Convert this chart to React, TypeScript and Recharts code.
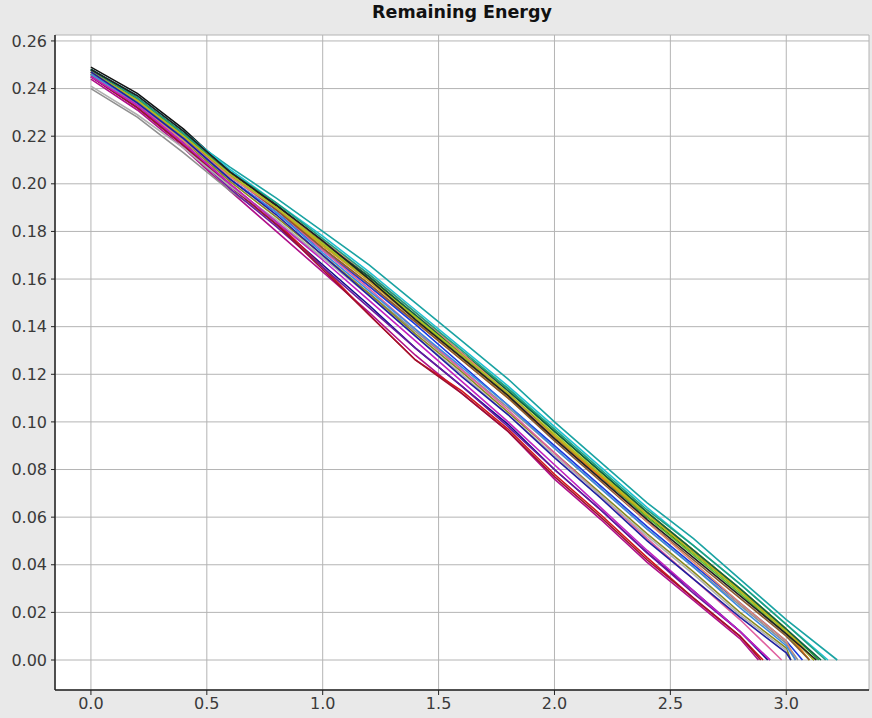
import { LineChart, Line, XAxis, YAxis, CartesianGrid } from "recharts";

// sample times shared by every run (the last point of each run is its end time, where energy hits 0)
const X_GRID = [0, 0.2, 0.4, 0.6, 0.8, 1.0, 1.2, 1.4, 1.6, 1.8, 2.0, 2.2, 2.4, 2.6, 2.8, 3.0];

const X_TICKS = [0, 0.5, 1.0, 1.5, 2.0, 2.5, 3.0];
const Y_TICKS = [0, 0.02, 0.04, 0.06, 0.08, 0.1, 0.12, 0.14, 0.16, 0.18, 0.2, 0.22, 0.24, 0.26];

const RUN_NAMES = [
  "black", "teal", "navy", "magenta", "red", "green", "lime", "orange", "blue", "gray", "purple",
  "cyan", "olive", "pink", "gold", "darkgreen", "brown", "salmon", "sky", "darkred", "teal2",
  "lightgray", "yellowgreen", "black2", "navy2", "magenta2",
];

const RUN_COLORS = [
  "#111111", "#1aa3a3", "#10108a", "#b0108a", "#d01818", "#1a9a3a", "#60c030", "#f08010", "#1838e0",
  "#909090", "#6a1aa0", "#20c0d0", "#8a8a20", "#e060a0", "#d0a020", "#106040", "#8a5a30", "#e08870",
  "#3c8ce0", "#a01030", "#20a080", "#b0b0b0", "#b0c020", "#202020", "#2020a0", "#c020c0",
];

// remaining energy of each run, read at X_GRID
const RUN_VALUES = [
  [0.249, 0.238, 0.223, 0.205, 0.191, 0.175, 0.161, 0.144, 0.128, 0.112, 0.094, 0.077, 0.060, 0.045, 0.029, 0.012],
  [0.248, 0.236, 0.221, 0.207, 0.194, 0.180, 0.166, 0.150, 0.134, 0.118, 0.100, 0.083, 0.066, 0.051, 0.034, 0.017],
  [0.246, 0.233, 0.217, 0.199, 0.183, 0.166, 0.149, 0.131, 0.115, 0.099, 0.080, 0.063, 0.045, 0.029, 0.012],
  [0.244, 0.231, 0.215, 0.197, 0.180, 0.163, 0.146, 0.128, 0.112, 0.096, 0.076, 0.059, 0.041, 0.025, 0.009],
  [0.245, 0.232, 0.217, 0.200, 0.184, 0.165, 0.145, 0.126, 0.113, 0.097, 0.078, 0.061, 0.043, 0.026, 0.010],
  [0.248, 0.236, 0.221, 0.204, 0.190, 0.175, 0.160, 0.144, 0.129, 0.114, 0.096, 0.079, 0.062, 0.046, 0.030, 0.013],
  [0.247, 0.235, 0.220, 0.203, 0.190, 0.174, 0.160, 0.144, 0.127, 0.111, 0.094, 0.077, 0.060, 0.044, 0.028, 0.011],
  [0.247, 0.235, 0.219, 0.204, 0.190, 0.173, 0.157, 0.142, 0.126, 0.110, 0.093, 0.077, 0.061, 0.046, 0.029, 0.012],
  [0.246, 0.234, 0.219, 0.202, 0.188, 0.172, 0.157, 0.141, 0.124, 0.107, 0.090, 0.073, 0.056, 0.040, 0.024, 0.008],
  [0.240, 0.228, 0.213, 0.197, 0.184, 0.169, 0.154, 0.138, 0.122, 0.106, 0.089, 0.072, 0.055, 0.039, 0.023, 0.007],
  [0.245, 0.232, 0.216, 0.198, 0.182, 0.165, 0.148, 0.131, 0.115, 0.098, 0.080, 0.063, 0.045, 0.028, 0.012],
  [0.248, 0.237, 0.222, 0.206, 0.192, 0.178, 0.163, 0.147, 0.131, 0.115, 0.098, 0.081, 0.064, 0.048, 0.032, 0.015],
  [0.246, 0.234, 0.218, 0.201, 0.186, 0.170, 0.154, 0.137, 0.121, 0.104, 0.087, 0.070, 0.053, 0.037, 0.020, 0.005],
  [0.247, 0.234, 0.219, 0.203, 0.189, 0.172, 0.156, 0.139, 0.122, 0.105, 0.087, 0.069, 0.051, 0.034, 0.017],
  [0.247, 0.235, 0.220, 0.204, 0.190, 0.174, 0.159, 0.143, 0.127, 0.111, 0.094, 0.078, 0.062, 0.046, 0.030, 0.013],
  [0.248, 0.236, 0.221, 0.205, 0.191, 0.176, 0.161, 0.145, 0.129, 0.113, 0.096, 0.079, 0.062, 0.046, 0.030, 0.013],
  [0.247, 0.235, 0.220, 0.204, 0.189, 0.173, 0.158, 0.142, 0.126, 0.110, 0.092, 0.075, 0.058, 0.042, 0.026, 0.010],
  [0.246, 0.233, 0.218, 0.203, 0.190, 0.176, 0.162, 0.146, 0.129, 0.112, 0.093, 0.076, 0.058, 0.041, 0.024, 0.008],
  [0.246, 0.234, 0.219, 0.202, 0.188, 0.171, 0.155, 0.139, 0.123, 0.107, 0.089, 0.072, 0.055, 0.039, 0.022, 0.006],
  [0.245, 0.232, 0.216, 0.199, 0.183, 0.164, 0.145, 0.126, 0.112, 0.096, 0.077, 0.060, 0.042, 0.026, 0.010],
  [0.248, 0.236, 0.221, 0.205, 0.192, 0.177, 0.162, 0.146, 0.130, 0.114, 0.097, 0.080, 0.063, 0.048, 0.032, 0.015],
  [0.241, 0.229, 0.215, 0.199, 0.185, 0.169, 0.153, 0.136, 0.120, 0.103, 0.086, 0.069, 0.052, 0.036, 0.019, 0.004],
  [0.247, 0.235, 0.220, 0.204, 0.190, 0.175, 0.160, 0.144, 0.128, 0.112, 0.095, 0.078, 0.061, 0.045, 0.029, 0.012],
  [0.248, 0.237, 0.222, 0.205, 0.191, 0.176, 0.160, 0.143, 0.127, 0.111, 0.093, 0.076, 0.059, 0.043, 0.027, 0.011],
  [0.247, 0.234, 0.219, 0.202, 0.187, 0.170, 0.153, 0.136, 0.119, 0.103, 0.085, 0.068, 0.050, 0.034, 0.018, 0.003],
  [0.245, 0.233, 0.217, 0.200, 0.184, 0.168, 0.151, 0.134, 0.117, 0.100, 0.082, 0.064, 0.046, 0.029, 0.012],
];

// time at which each run runs out of energy
const RUN_ENDS = [
  3.12, 3.22, 2.92, 2.88, 2.90, 3.14, 3.10, 3.10, 3.07, 3.05, 2.93, 3.18, 3.02, 2.98, 3.12, 3.15,
  3.10, 3.04, 3.04, 2.89, 3.17, 3.00, 3.12, 3.13, 3.02, 2.93,
];

const runs = RUN_VALUES.map((vals, i) => ({
  name: RUN_NAMES[i],
  color: RUN_COLORS[i],
  points: [...vals.map((v, j) => ({ x: X_GRID[j], y: v })), { x: RUN_ENDS[i], y: 0 }],
}));

const FONT = "'DejaVu Sans', Verdana, sans-serif";

export default function App() {
  return (
    <div
      style={{
        position: "absolute",
        left: 0,
        top: 0,
        width: 872,
        height: 718,
        background: "#e9e9e9",
        fontFamily: FONT,
      }}
    >
      <div
        style={{
          position: "absolute",
          left: 55,
          width: 814,
          top: 2,
          textAlign: "center",
          fontSize: 17.5,
          fontWeight: "bold",
          color: "#111",
        }}
      >
        Remaining Energy
      </div>
      <LineChart width={872} height={718} margin={{ top: 35, right: 3, bottom: 0, left: 0 }}>
        <CartesianGrid fill="#ffffff" stroke="#b4b4b4" />
        <XAxis
          xAxisId="top"
          orientation="top"
          type="number"
          dataKey="x"
          domain={[-0.155, 3.357]}
          height={0}
          tick={false}
          tickLine={false}
          axisLine={{ stroke: "#222", strokeWidth: 1.5 }}
        />
        <XAxis
          type="number"
          dataKey="x"
          domain={[-0.155, 3.357]}
          ticks={X_TICKS}
          tickFormatter={(v: number) => v.toFixed(1)}
          height={28}
          tickSize={5}
          tickMargin={3}
          allowDataOverflow
          axisLine={{ stroke: "#222", strokeWidth: 1.5 }}
          tickLine={{ stroke: "#222" }}
          tick={{ fontSize: 16, fill: "#3a3a3a", fontFamily: FONT }}
        />
        <YAxis
          type="number"
          domain={[-0.0126, 0.2625]}
          ticks={Y_TICKS}
          tickFormatter={(v: number) => v.toFixed(2)}
          width={55}
          tickSize={4}
          tickMargin={4}
          allowDataOverflow
          axisLine={{ stroke: "#222", strokeWidth: 1.5 }}
          tickLine={{ stroke: "#222" }}
          tick={{ fontSize: 16, fill: "#3a3a3a", fontFamily: FONT }}
        />
        {runs.map((r) => (
          <Line
            key={r.name}
            data={r.points}
            dataKey="y"
            type="linear"
            stroke={r.color}
            strokeWidth={1.6}
            dot={false}
            activeDot={false}
            isAnimationActive={false}
          />
        ))}
      </LineChart>
    </div>
  );
}
